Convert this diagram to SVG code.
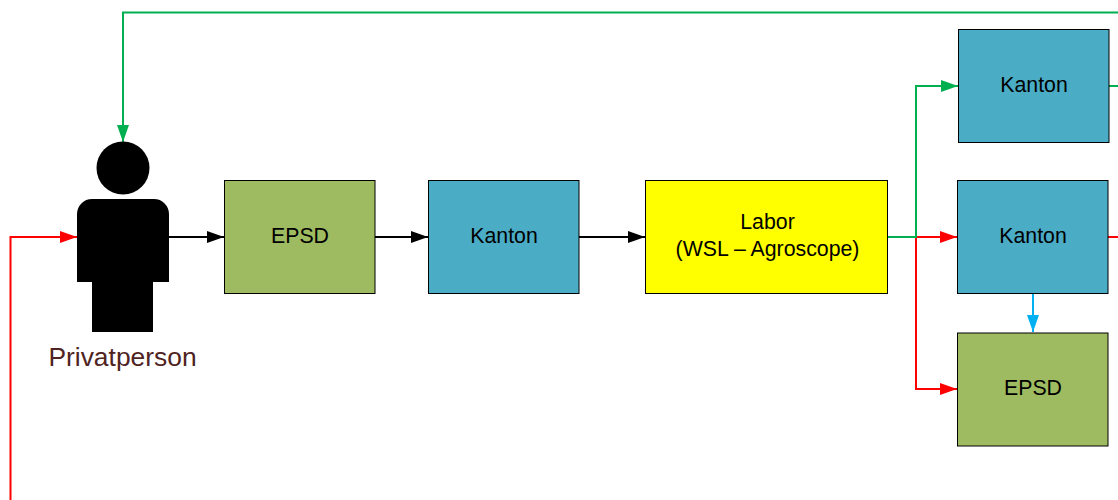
<svg xmlns="http://www.w3.org/2000/svg" width="1118" height="500" viewBox="0 0 1118 500">
<style>
.box{stroke:#000;stroke-width:1}
.b{fill:#4bacc6}
.g{fill:#9fbb61}
.y{fill:#ffff00}
text{font-family:"Liberation Sans",Arial,sans-serif;font-size:21.300px;fill:#000;text-anchor:middle}
.c{fill:none;stroke-width:2}
</style>
<defs>
<marker id="ak" markerUnits="userSpaceOnUse" markerWidth="17" markerHeight="12" refX="17" refY="6" orient="auto"><path d="M0 0L17 6L0 12Z" fill="#000"/></marker>
<marker id="ar" markerUnits="userSpaceOnUse" markerWidth="17" markerHeight="12" refX="17" refY="6" orient="auto"><path d="M0 0L17 6L0 12Z" fill="#ff0000"/></marker>
<marker id="ag" markerUnits="userSpaceOnUse" markerWidth="17" markerHeight="12" refX="17" refY="6" orient="auto"><path d="M0 0L17 6L0 12Z" fill="#00b050"/></marker>
<marker id="ac" markerUnits="userSpaceOnUse" markerWidth="17" markerHeight="12" refX="17" refY="6" orient="auto"><path d="M0 0L17 6L0 12Z" fill="#00b0f0"/></marker>
</defs>
<g id="connectors">
<path class="c" stroke="#ff0000" marker-end="url(#ar)" d="M10.500 500V237H77"/>
<path class="c" stroke="#ff0000" marker-end="url(#ar)" d="M916 237H957"/>
<path class="c" stroke="#ff0000" marker-end="url(#ar)" d="M916 237V389H957"/>
<path class="c" stroke="#ff0000" d="M1108 237H1118"/>
<path class="c" stroke="#00b050" marker-end="url(#ag)" d="M888 237H916V86H958"/>
<path class="c" stroke="#00b050" marker-end="url(#ag)" d="M1118 12.500H123V142"/>
<path class="c" stroke="#00b050" d="M1109 86H1118"/>
<path class="c" stroke="#000" marker-end="url(#ak)" d="M169 237H224"/>
<path class="c" stroke="#000" marker-end="url(#ak)" d="M375 237H428"/>
<path class="c" stroke="#000" marker-end="url(#ak)" d="M579 237H645"/>
<path class="c" stroke="#00b0f0" marker-end="url(#ac)" d="M1033 293V332"/>
</g>
<g id="privatperson">
<circle cx="123" cy="168" r="26.500" fill="#000"/>
<path d="M92 199H154A15 15 0 0 1 169 214V282H153V332H92V282H77V214A15 15 0 0 1 92 199Z" fill="#000"/>
<text x="122.500" y="366" style="font-size:26.400px;fill:#4f2321">Privatperson</text>
</g>
<g id="epsd1"><rect class="box g" x="224.500" y="180.500" width="150.500" height="113"/><text x="300" y="242.500">EPSD</text></g>
<g id="kanton1"><rect class="box b" x="428.500" y="180.500" width="150.500" height="113"/><text x="504" y="242.500">Kanton</text></g>
<g id="labor"><rect class="box y" x="645.500" y="180.500" width="242" height="113"/><text x="767.500" y="229">Labor</text><text x="767.500" y="256">(WSL – Agroscope)</text></g>
<g id="kanton2"><rect class="box b" x="958.500" y="29.500" width="150.500" height="113"/><text x="1034" y="91.500">Kanton</text></g>
<g id="kanton3"><rect class="box b" x="957.500" y="180.500" width="150.500" height="113"/><text x="1033" y="242.500">Kanton</text></g>
<g id="epsd2"><rect class="box g" x="957.500" y="333" width="150.500" height="113"/><text x="1033" y="395">EPSD</text></g>
</svg>
